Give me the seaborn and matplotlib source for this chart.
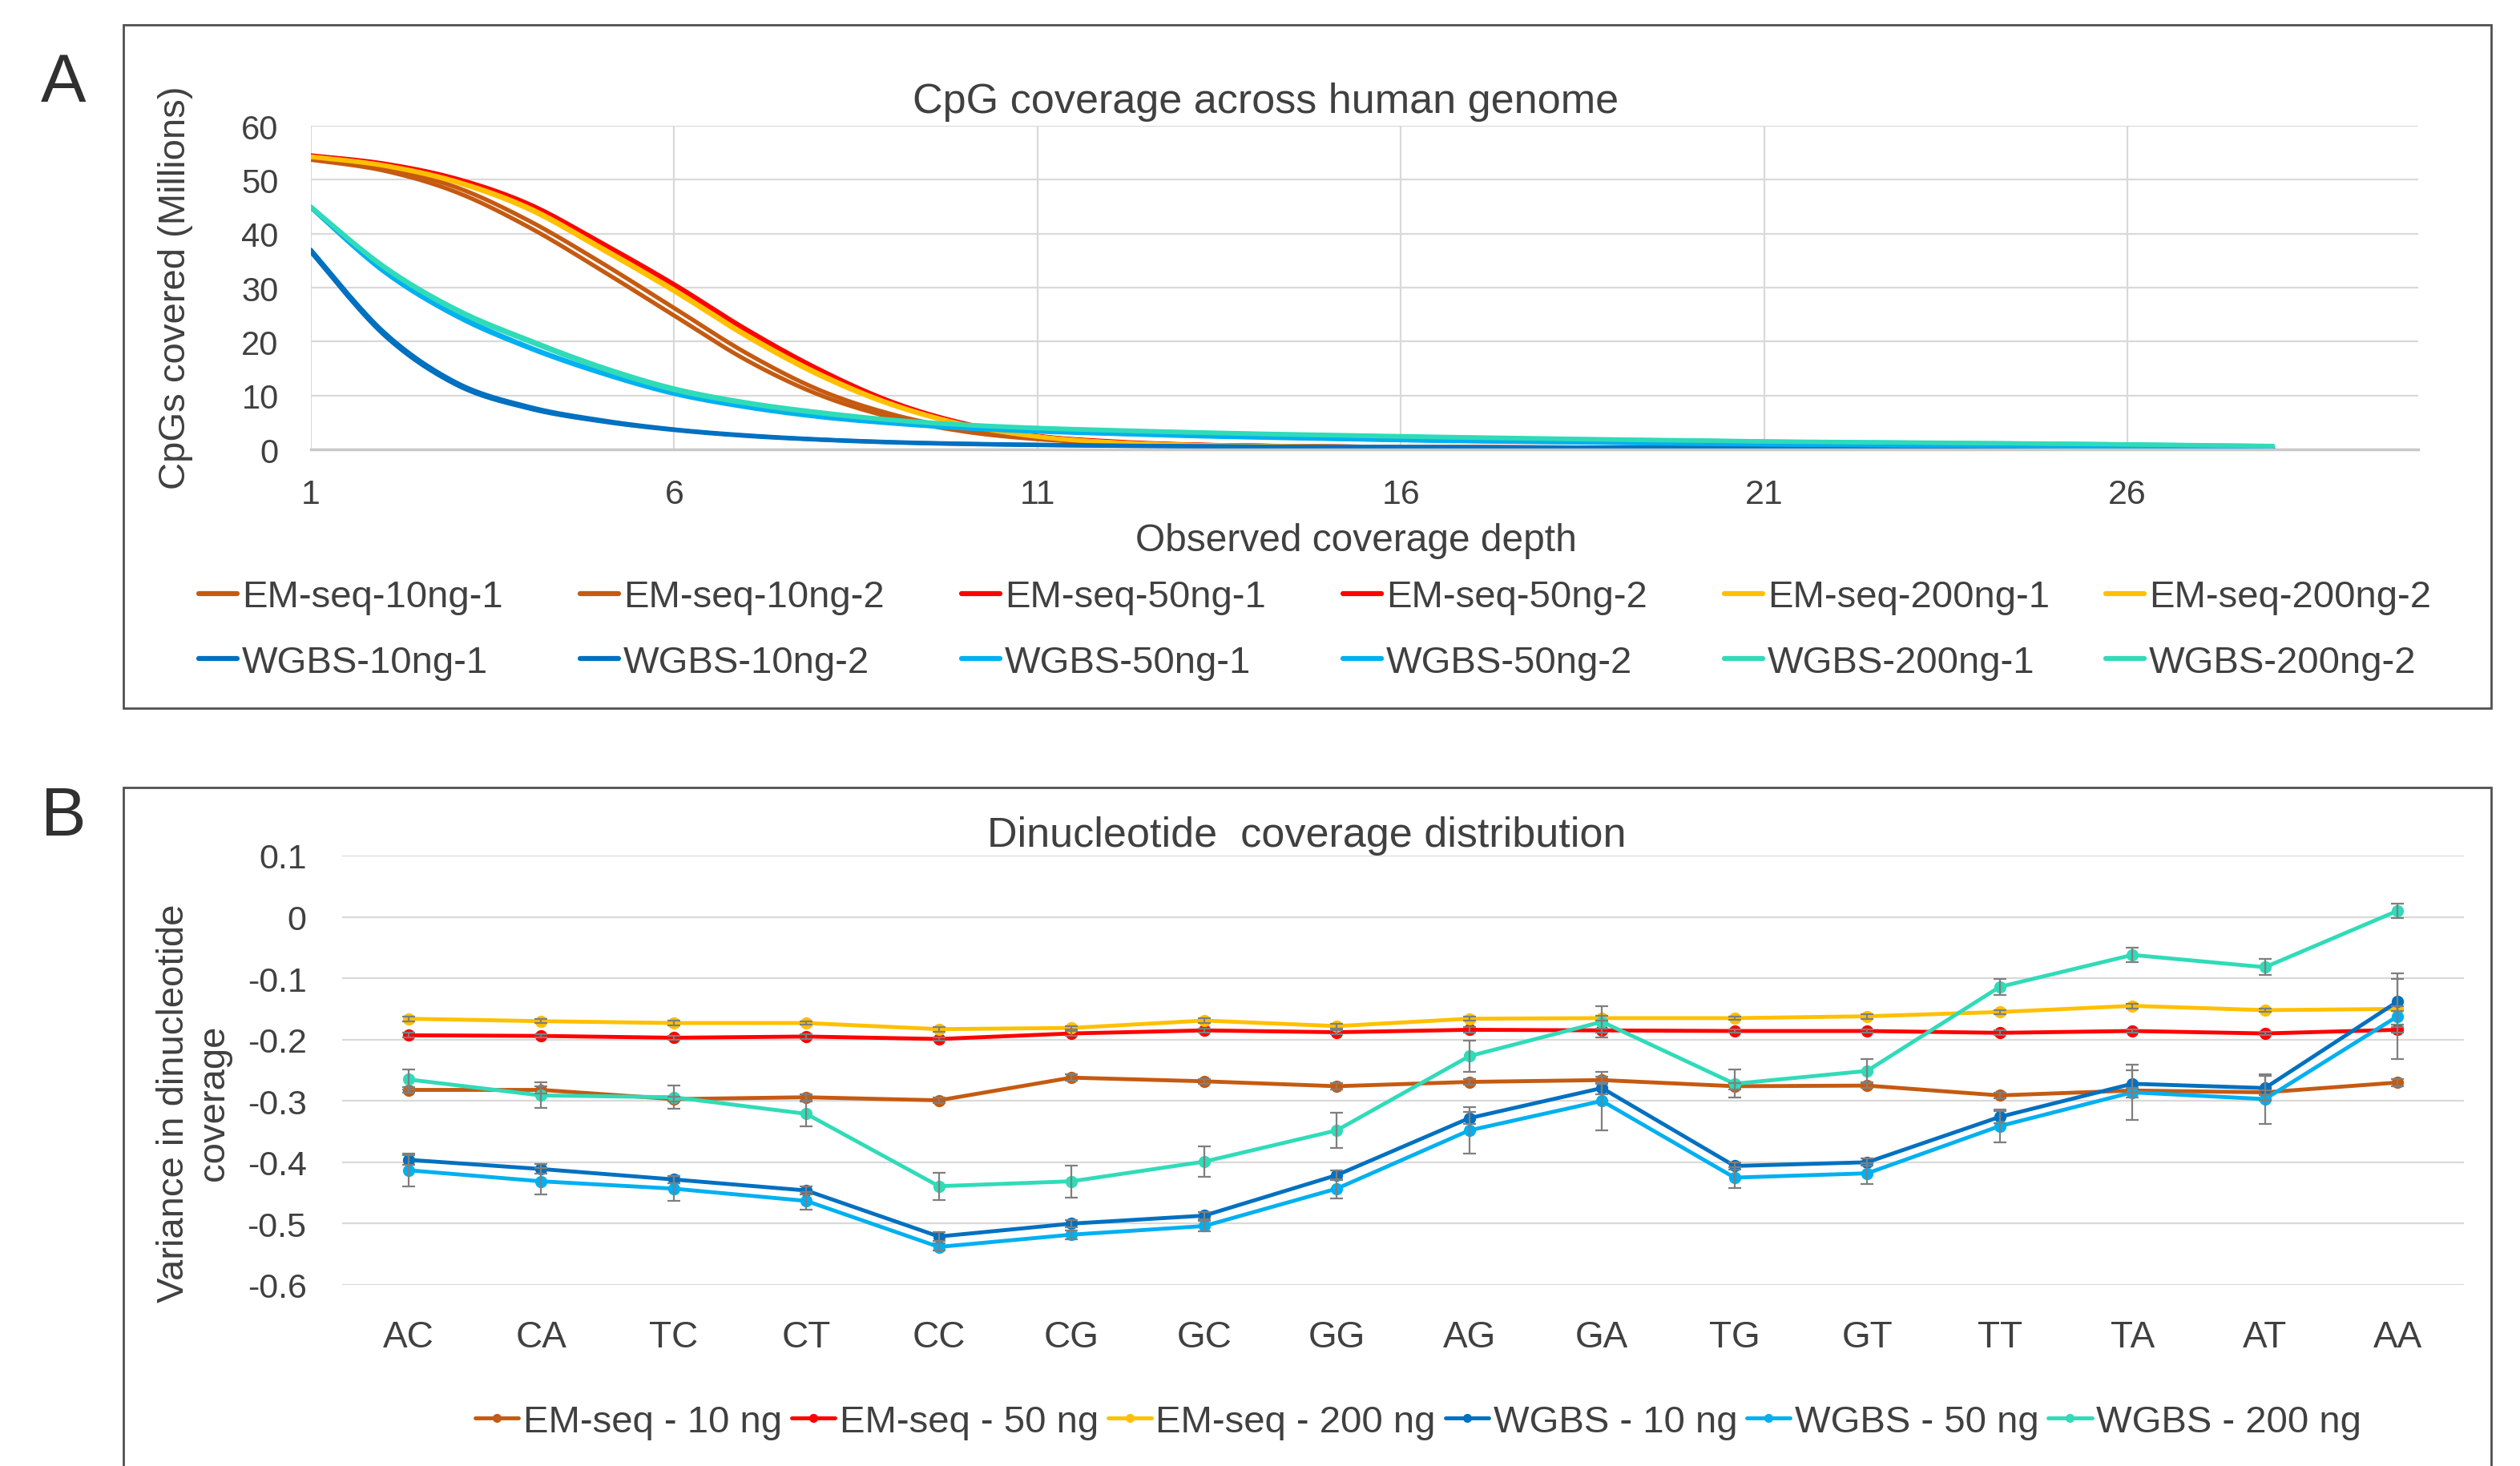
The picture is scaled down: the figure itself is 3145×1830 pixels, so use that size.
import numpy as np
import matplotlib
matplotlib.use("Agg")
import matplotlib.pyplot as plt
import seaborn as sns
from matplotlib.lines import Line2D
from matplotlib.patches import Rectangle

# ---------------- Panel A data ----------------
depth = list(range(1, 29))
em10_1 = [54.0, 52.2, 48.6, 42.4, 34.6, 26.2, 17.8, 11.0, 6.5, 3.7, 2.1, 1.3, 0.9, 0.7, 0.55, 0.45, 0.4, 0.35, 0.32, 0.3, 0.28, 0.26, 0.24, 0.22, 0.21, 0.2, 0.19, 0.18]
em10_2 = [53.7, 51.7, 47.7, 41.2, 33.2, 24.8, 16.5, 10.1, 5.9, 3.3, 1.9, 1.2, 0.8, 0.6, 0.5, 0.42, 0.37, 0.33, 0.3, 0.28, 0.26, 0.24, 0.22, 0.21, 0.2, 0.19, 0.18, 0.17]
em50_1 = [54.5, 53.0, 50.2, 45.5, 38.3, 30.6, 22.2, 14.8, 8.8, 4.8, 2.5, 1.5, 0.95, 0.7, 0.55, 0.45, 0.4, 0.35, 0.32, 0.3, 0.28, 0.26, 0.24, 0.22, 0.21, 0.2, 0.19, 0.18]
em50_2 = [54.4, 52.9, 50.0, 45.2, 38.0, 30.2, 21.8, 14.4, 8.6, 4.7, 2.45, 1.4, 0.9, 0.68, 0.54, 0.44, 0.39, 0.34, 0.31, 0.29, 0.27, 0.25, 0.23, 0.22, 0.21, 0.2, 0.19, 0.18]
em200_1 = [54.3, 52.7, 49.7, 44.8, 37.4, 29.6, 21.2, 14.0, 8.4, 4.6, 2.4, 1.35, 0.88, 0.66, 0.53, 0.44, 0.38, 0.34, 0.31, 0.29, 0.27, 0.25, 0.23, 0.22, 0.21, 0.2, 0.19, 0.18]
em200_2 = [54.2, 52.6, 49.5, 44.5, 37.1, 29.3, 20.9, 13.7, 8.2, 4.5, 2.35, 1.3, 0.85, 0.64, 0.52, 0.43, 0.37, 0.33, 0.3, 0.28, 0.26, 0.24, 0.22, 0.21, 0.2, 0.19, 0.18, 0.17]
wg10_1 = [37.0, 21.8, 12.4, 7.9, 5.4, 3.7, 2.6, 1.85, 1.35, 1.05, 0.85, 0.7, 0.6, 0.52, 0.46, 0.42, 0.38, 0.35, 0.33, 0.31, 0.29, 0.27, 0.26, 0.25, 0.24, 0.23, 0.22, 0.21]
wg10_2 = [36.6, 21.3, 12.0, 7.6, 5.2, 3.6, 2.5, 1.8, 1.3, 1.0, 0.82, 0.68, 0.58, 0.5, 0.45, 0.41, 0.37, 0.34, 0.32, 0.3, 0.28, 0.26, 0.25, 0.24, 0.23, 0.22, 0.21, 0.2]
wg50_1 = [45.0, 33.3, 25.0, 19.0, 14.3, 10.5, 8.0, 6.2, 4.9, 4.0, 3.4, 2.95, 2.6, 2.3, 2.0, 1.75, 1.55, 1.4, 1.25, 1.1, 0.95, 0.85, 0.75, 0.68, 0.6, 0.55, 0.5, 0.45]
wg50_2 = [44.8, 33.0, 24.7, 18.8, 14.1, 10.3, 7.8, 6.0, 4.8, 3.9, 3.3, 2.9, 2.5, 2.2, 1.95, 1.7, 1.5, 1.35, 1.2, 1.05, 0.92, 0.82, 0.72, 0.65, 0.58, 0.52, 0.47, 0.42]
wg200_1 = [45.0, 34.0, 26.0, 20.3, 15.3, 11.3, 8.7, 6.9, 5.5, 4.6, 4.0, 3.6, 3.25, 2.95, 2.7, 2.45, 2.25, 2.05, 1.85, 1.7, 1.5, 1.4, 1.3, 1.2, 1.1, 0.95, 0.8, 0.65]
wg200_2 = [44.9, 33.8, 25.7, 20.0, 15.0, 11.0, 8.5, 6.7, 5.4, 4.5, 3.9, 3.5, 3.15, 2.85, 2.6, 2.35, 2.15, 1.95, 1.78, 1.62, 1.45, 1.35, 1.25, 1.15, 1.05, 0.9, 0.78, 0.62]

namesA = ["EM-seq-10ng-1", "EM-seq-10ng-2", "EM-seq-50ng-1", "EM-seq-50ng-2",
          "EM-seq-200ng-1", "EM-seq-200ng-2", "WGBS-10ng-1", "WGBS-10ng-2",
          "WGBS-50ng-1", "WGBS-50ng-2", "WGBS-200ng-1", "WGBS-200ng-2"]
seriesA = [em10_1, em10_2, em50_1, em50_2, em200_1, em200_2,
           wg10_1, wg10_2, wg50_1, wg50_2, wg200_1, wg200_2]
xticksA = [1, 6, 11, 16, 21, 26]
yticksA = [0, 10, 20, 30, 40, 50, 60]

# ---------------- Panel B data ----------------
dinuc = ["AC", "CA", "TC", "CT", "CC", "CG", "GC", "GG", "AG", "GA", "TG", "GT", "TT", "TA", "AT", "AA"]
em10 = [-0.282, -0.282, -0.297, -0.294, -0.299, -0.262, -0.268, -0.276, -0.269, -0.266, -0.276, -0.275, -0.291, -0.283, -0.286, -0.270]
em50 = [-0.193, -0.194, -0.197, -0.195, -0.199, -0.190, -0.185, -0.188, -0.184, -0.185, -0.186, -0.186, -0.189, -0.186, -0.190, -0.184]
em200 = [-0.166, -0.170, -0.173, -0.173, -0.183, -0.181, -0.169, -0.178, -0.166, -0.165, -0.165, -0.162, -0.155, -0.145, -0.152, -0.150]
wg10 = [-0.396, -0.411, -0.428, -0.446, -0.521, -0.500, -0.487, -0.421, -0.328, -0.279, -0.406, -0.400, -0.326, -0.272, -0.279, -0.138]
wg50 = [-0.413, -0.431, -0.443, -0.463, -0.538, -0.518, -0.504, -0.443, -0.348, -0.300, -0.425, -0.418, -0.341, -0.286, -0.297, -0.162]
wg200 = [-0.265, -0.291, -0.294, -0.321, -0.439, -0.431, -0.399, -0.348, -0.227, -0.171, -0.272, -0.251, -0.114, -0.062, -0.082, 0.010]
em10_err = [0.005, 0.006, 0.004, 0.005, 0.004, 0.005, 0.004, 0.005, 0.004, 0.006, 0.005, 0.004, 0.005, 0.004, 0.004, 0.006]
em50_err = [0.004, 0.003, 0.003, 0.004, 0.003, 0.004, 0.003, 0.003, 0.004, 0.003, 0.003, 0.003, 0.004, 0.003, 0.003, 0.004]
em200_err = [0.004, 0.003, 0.004, 0.003, 0.004, 0.003, 0.004, 0.004, 0.003, 0.004, 0.003, 0.004, 0.003, 0.004, 0.003, 0.004]
wg10_err = [0.008, 0.008, 0.006, 0.006, 0.007, 0.006, 0.006, 0.008, 0.010, 0.010, 0.006, 0.006, 0.010, 0.022, 0.020, 0.037]
wg50_err = [0.027, 0.022, 0.020, 0.014, 0.006, 0.007, 0.008, 0.016, 0.038, 0.048, 0.017, 0.017, 0.027, 0.045, 0.040, 0.070]
wg200_err = [0.016, 0.021, 0.019, 0.020, 0.022, 0.026, 0.025, 0.029, 0.025, 0.025, 0.023, 0.019, 0.013, 0.012, 0.013, 0.012]
namesB = ["EM-seq - 10 ng", "EM-seq - 50 ng", "EM-seq - 200 ng", "WGBS - 10 ng", "WGBS - 50 ng", "WGBS - 200 ng"]
seriesB = [em10, em50, em200, wg10, wg50, wg200]
errB = [em10_err, em50_err, em200_err, wg10_err, wg50_err, wg200_err]
yticksB = [-0.6, -0.5, -0.4, -0.3, -0.2, -0.1, 0.0, 0.1]
ytickLabelsB = ["-0.6", "-0.5", "-0.4", "-0.3", "-0.2", "-0.1", "0", "0.1"]

# ---------------- styling ----------------
C_EM10, C_EM50, C_EM200 = "#C55A11", "#FF0000", "#FFC000"
C_WG10, C_WG50, C_WG200 = "#0070C0", "#00B0F0", "#30DBB8"
colorsB = [C_EM10, C_EM50, C_EM200, C_WG10, C_WG50, C_WG200]
colorsA = [c for c in colorsB for _ in range(2)]
TXT = "#404040"
GRID = "#D9D9D9"

sns.set_theme(style="white")
plt.rcParams["font.family"] = ["Liberation Sans", "DejaVu Sans"]

W, H = 3145, 1831
fig = plt.figure(figsize=(W / 100, H / 100), dpi=100)


def fx(px):
    return px / W


def fy(px):
    return 1 - px / H


def smooth(x, y, n=16):
    """Catmull-Rom rendering (Excel 'smoothed line' style)."""
    x = np.asarray(x, float)
    y = np.asarray(y, float)
    xp = np.concatenate([[x[0]], x, [x[-1]]])
    yp = np.concatenate([[y[0]], y, [y[-1]]])
    t = np.linspace(0, 1, n, endpoint=False)
    xs, ys = [], []
    for i in range(1, len(xp) - 2):
        for arr, out in ((xp, xs), (yp, ys)):
            p0, p1, p2, p3 = arr[i - 1:i + 3]
            out.extend(0.5 * ((2 * p1) + (-p0 + p2) * t + (2 * p0 - 5 * p1 + 4 * p2 - p3) * t ** 2
                              + (-p0 + 3 * p1 - 3 * p2 + p3) * t ** 3))
    xs.append(x[-1])
    ys.append(y[-1])
    return np.array(xs), np.array(ys)


# ---------------- frames & panel letters ----------------
fig.add_artist(Rectangle((fx(154), fy(885)), fx(3109) - fx(154), (885 - 32) / H,
                         transform=fig.transFigure, fill=False, ec="#505050", lw=2))
fig.add_artist(Rectangle((fx(154), -0.05), fx(3109) - fx(154), fy(984) + 0.05,
                         transform=fig.transFigure, fill=False, ec="#505050", lw=2))
fig.text(fx(79), fy(127), "A", fontsize=61, color="#303030", ha="center", va="baseline")
fig.text(fx(79), fy(1043), "B", fontsize=61, color="#303030", ha="center", va="baseline")

# ---------------- Panel A ----------------
axA = fig.add_axes([fx(388), fy(562), fx(3018) - fx(388), (562 - 158) / H])
for name, vals, col in zip(namesA, seriesA, colorsA):
    xs, ys = smooth(depth, vals)
    sns.lineplot(x=xs, y=ys, ax=axA, color=col, lw=3.8, sort=False, estimator=None,
                 legend=False)
axA.set_xlim(1, 30)
axA.set_ylim(0, 60)
axA.set_xticks(xticksA)
axA.set_yticks(yticksA)
axA.set_xticklabels([str(v) for v in xticksA])
axA.set_yticklabels([str(v) for v in yticksA])
axA.grid(True, color=GRID, lw=1.6)
axA.set_axisbelow(True)
for s in ["top", "right", "left"]:
    axA.spines[s].set_visible(False)
axA.spines["bottom"].set_color("#C8C8C8")
axA.spines["bottom"].set_linewidth(2.5)
axA.tick_params(axis="x", length=0, labelsize=31, labelcolor=TXT, pad=26)
axA.tick_params(axis="y", length=0, labelsize=30, labelcolor=TXT, pad=29)
axA.set_xlabel("")
axA.set_ylabel("")

fig.text(fx(1580), fy(141), "CpG coverage across human genome", fontsize=37.5, color=TXT,
         ha="center", va="baseline")
fig.text(fx(1692), fy(688), "Observed coverage depth", fontsize=34.5, color=TXT,
         ha="center", va="baseline")
fig.text(fx(219), fy(359), "CpGs covered (Millions)", fontsize=34, color=TXT,
         ha="center", va="center", rotation=90)

# legend A: six columns, EM-seq row on top, WGBS row below
for i in range(6):
    labs = [namesA[i], namesA[6 + i]]
    hs = [Line2D([], [], color=colorsA[i], lw=4.5), Line2D([], [], color=colorsA[6 + i], lw=4.5)]
    fig.legend(handles=hs, labels=labs, loc="center left",
               bbox_to_anchor=(fx(248 + 476 * i), fy(787)), frameon=False, fontsize=34,
               handlelength=1.02, handletextpad=0.12, labelspacing=0.8, borderpad=0,
               borderaxespad=0, labelcolor=TXT)

# ---------------- Panel B ----------------
axB = fig.add_axes([fx(427), fy(1605), fx(3075) - fx(427), (1605 - 1069) / H])
idx = np.arange(len(dinuc))
for name, vals, err, col in zip(namesB, seriesB, errB, colorsB):
    sns.lineplot(x=idx, y=vals, ax=axB, color=col, lw=3.5, marker="o", markersize=11,
                 markeredgewidth=0, sort=False, estimator=None, legend=False)
    axB.errorbar(idx, vals, yerr=err, fmt="none", ecolor="#7F7F7F", elinewidth=1.6,
                 capsize=5.5, capthick=1.6, zorder=3)
axB.set_xlim(-0.5, len(dinuc) - 0.5)
axB.set_ylim(-0.6, 0.1)
axB.set_xticks(idx)
axB.set_xticklabels(dinuc)
axB.set_yticks(yticksB)
axB.set_yticklabels(ytickLabelsB)
axB.grid(True, axis="y", color=GRID, lw=1.6)
axB.grid(False, axis="x")
axB.set_axisbelow(True)
for s in ["top", "right", "left", "bottom"]:
    axB.spines[s].set_visible(False)
axB.tick_params(axis="x", length=0, labelsize=33, labelcolor=TXT, pad=31)
axB.tick_params(axis="y", length=0, labelsize=31, labelcolor=TXT, pad=32)
axB.set_xlabel("")
axB.set_ylabel("")

fig.text(fx(1631), fy(1057), "Dinucleotide  coverage distribution", fontsize=37.5, color=TXT,
         ha="center", va="baseline")
fig.text(fx(242), fy(1377), "Variance in dinucleotide\ncoverage", fontsize=34, color=TXT,
         ha="center", va="center", rotation=90, multialignment="center", linespacing=1.15)

hB = [Line2D([], [], color=c, lw=3.5, marker="o", markersize=8, markeredgewidth=0) for c in colorsB]
fig.legend(handles=hB, labels=namesB, loc="center", bbox_to_anchor=(fx(1770), fy(1776)),
           ncol=6, frameon=False, fontsize=34, handlelength=1.15, handletextpad=0.12,
           columnspacing=0.25, borderpad=0, borderaxespad=0, labelcolor=TXT)

fig.savefig("out.png", dpi=100)
